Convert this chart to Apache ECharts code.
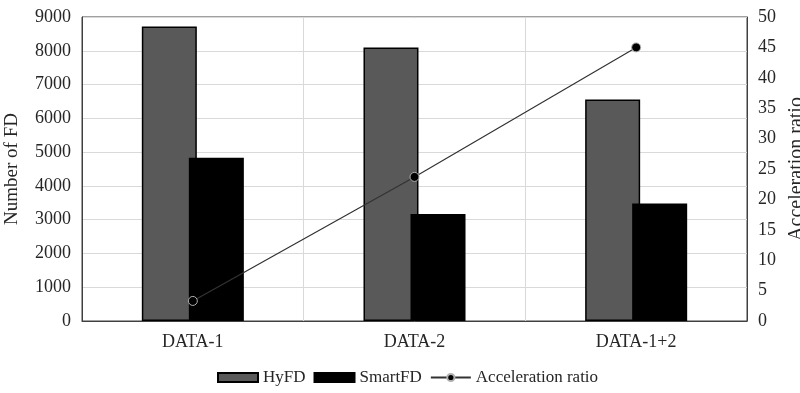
<!DOCTYPE html>
<html>
<head>
<meta charset="utf-8">
<script src="https://cdn.jsdelivr.net/npm/echarts@6/dist/echarts.min.js"></script>
<style>html,body{margin:0;padding:0;background:#fff;}#c{width:800px;height:393px;}</style>
</head>
<body>
<div id="c"></div>
<script>
const categories = ['DATA-1', 'DATA-2', 'DATA-1+2'];
const hyfd = [8720, 8100, 6560];
const smartfd = [4830, 3170, 3480];
const accelRatio = [3.3, 23.7, 45];
const leftTicks = {min: 0, max: 9000, interval: 1000};
const rightTicks = {min: 0, max: 50, interval: 5};

const FONT = 'Liberation Serif';
const chart = echarts.init(document.getElementById('c'));
chart.setOption({
  animation: false,
  textStyle: {fontFamily: FONT, color: '#262626'},
  grid: {left: 82, right: 53, top: 17, bottom: 72, containLabel: false, outerBoundsMode: 'none',
         show: true, borderColor: '#404040', borderWidth: 1, backgroundColor: 'transparent'},
  legend: {
    bottom: 2,
    left: 212,
    itemWidth: 40,
    itemHeight: 9,
    itemGap: 8,
    textStyle: {fontFamily: FONT, fontSize: 17, color: '#262626'},
    data: [
      {name: 'HyFD', icon: 'rect'},
      {name: 'SmartFD', icon: 'rect'},
      {name: 'Acceleration ratio'}
    ]
  },
  xAxis: {
    type: 'category',
    data: categories,
    axisLine: {show: true, lineStyle: {color: '#404040'}},
    axisTick: {show: false},
    axisLabel: {fontFamily: FONT, fontSize: 18, color: '#262626', margin: 12},
    splitLine: {show: true, lineStyle: {color: '#d9d9d9', width: 1}}
  },
  yAxis: [
    {
      type: 'value',
      min: leftTicks.min, max: leftTicks.max, interval: leftTicks.interval,
      name: 'Number of FD',
      nameLocation: 'middle',
      nameGap: 60,
      nameTextStyle: {fontFamily: FONT, fontSize: 19, color: '#262626'},
      axisLine: {show: true, lineStyle: {color: '#404040'}},
      axisTick: {show: false},
      axisLabel: {fontFamily: FONT, fontSize: 18, color: '#262626', margin: 11, formatter: v => String(v)},
      splitLine: {show: true, lineStyle: {color: '#d9d9d9', width: 1}}
    },
    {
      type: 'value',
      min: rightTicks.min, max: rightTicks.max, interval: rightTicks.interval,
      name: 'Acceleration ratio',
      nameLocation: 'middle',
      nameGap: 30,
      nameTextStyle: {fontFamily: FONT, fontSize: 20, color: '#262626'},
      axisLine: {show: true, lineStyle: {color: '#404040'}},
      axisTick: {show: false},
      axisLabel: {fontFamily: FONT, fontSize: 18, color: '#262626', margin: 11},
      splitLine: {show: false}
    }
  ],
  series: [
    {
      name: 'HyFD', type: 'bar', data: hyfd, yAxisIndex: 0,
      barWidth: 55, barGap: '-14.5%',
      itemStyle: {color: '#595959', borderColor: '#000', borderWidth: 1.5}
    },
    {
      name: 'SmartFD', type: 'bar', data: smartfd, yAxisIndex: 0,
      barWidth: 55, barGap: '-14.5%',
      itemStyle: {color: '#000000', borderColor: '#000', borderWidth: 1.5}
    },
    {
      name: 'Acceleration ratio', type: 'line', data: accelRatio, yAxisIndex: 1,
      symbol: 'circle', symbolSize: 9,
      lineStyle: {color: '#333333', width: 1.2},
      itemStyle: {color: '#000', borderColor: '#b0b0b0', borderWidth: 1},
      z: 5
    }
  ]
});
</script>
</body>
</html>
